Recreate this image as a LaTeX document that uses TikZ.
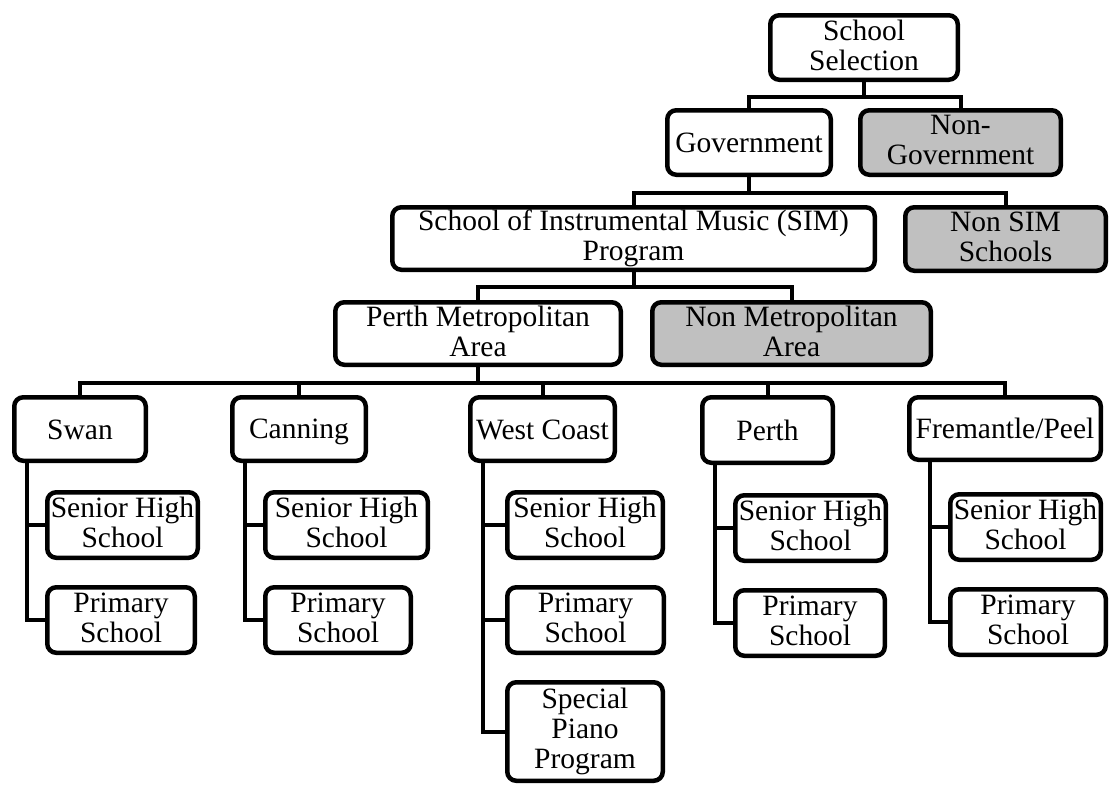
\documentclass[tikz,border=0pt]{standalone}
\usepackage{fontspec}
\setmainfont{Liberation Serif}
\usetikzlibrary{positioning}
\definecolor{shade}{RGB}{192,192,192}
\newcommand\boxstrut{\rule[-5pt]{0pt}{30pt}}

\begin{document}
\begin{tikzpicture}[
  x=1pt, y=1pt,
  box/.style={draw, line width=4.5pt, rounded corners=9pt, align=center,
              inner sep=0pt, minimum height=64.5pt,
              font=\fontsize{29.5}{30}\selectfont,
              execute at begin node=\boxstrut, execute at end node=\boxstrut},
  other/.style={box, fill=shade},
  school/.style={box, minimum height=65.5pt},
  link/.style={line width=4pt}
]
\useasboundingbox (0,0) rectangle (1110,-793);

\node[box, minimum width=187.5pt]   (select)   at (864,-47.5)    {School\\Selection};
\node[box, minimum width=163.5pt]   (gov)      at (749,-142.5)   {Government};
\node[other, minimum width=200.5pt] (nongov)   at (960.5,-142.5) {Non-\\Government};
\node[box, minimum width=482.5pt, minimum height=62.5pt]   (sim)      at (633.5,-238.5) {School of Instrumental Music (SIM)\\Program};
\node[other, minimum width=200.5pt, minimum height=63.5pt] (nonsim)   at (1005.5,-239)  {Non SIM\\Schools};
\node[box, minimum width=285.5pt, minimum height=62.5pt]   (metro)    at (478,-333.5)   {Perth Metropolitan\\Area};
\node[other, minimum width=278.5pt, minimum height=62.5pt] (nonmetro) at (791.5,-333.5) {Non Metropolitan\\Area};

\node[box, minimum width=131.5pt, minimum height=63.5pt] (swan)    at (80,-429)      {Swan};
\node[box, minimum width=133.5pt, minimum height=63.5pt] (canning) at (299,-429)     {Canning};
\node[box, minimum width=144.5pt, minimum height=63.5pt] (wc)      at (542.5,-429)   {West Coast};
\node[box, minimum width=130.5pt, minimum height=65.5pt] (perth)   at (767.5,-430)   {Perth};
\node[box, minimum width=191.5pt, minimum height=62.5pt] (frem)    at (1005,-428.5)  {Fremantle/Peel};

\node[school, anchor=north west, minimum width=150.5pt] (swan-shs)    at (45,-490)  {Senior High\\School};
\node[school, below=25pt of swan-shs.south west, anchor=north west, minimum width=147.5pt] (swan-pri) {Primary\\School};
\node[school, anchor=north west, minimum width=162.5pt] (canning-shs) at (263,-490) {Senior High\\School};
\node[school, below=25pt of canning-shs.south west, anchor=north west, minimum width=145.5pt] (canning-pri) {Primary\\School};
\node[school, anchor=north west, minimum width=155.5pt] (wc-shs)      at (505,-490) {Senior High\\School};
\node[school, below=25pt of wc-shs.south west, anchor=north west, minimum width=156.5pt] (wc-pri) {Primary\\School};
\node[school, below=25pt of wc-pri.south west, anchor=north west, minimum width=155.5pt, minimum height=98.5pt] (wc-piano) {Special\\Piano\\Program};
\node[school, anchor=north west, minimum width=150.5pt] (perth-shs)   at (733,-493) {Senior High\\School};
\node[school, below=25pt of perth-shs.south west, anchor=north west, minimum width=149.5pt] (perth-pri) {Primary\\School};
\node[school, anchor=north west, minimum width=150.5pt] (frem-shs)    at (948,-492) {Senior High\\School};
\node[school, below=25pt of frem-shs.south west, anchor=north west, minimum width=155.5pt] (frem-pri) {Primary\\School};

\draw[link] (select.south) -- ++(0,-15) -| (gov.north);
\draw[link] (select.south) -- ++(0,-15) -| (nongov.north);
\draw[link] (gov.south) -- ++(0,-16) -| (sim.north);
\draw[link] (gov.south) -- ++(0,-16) -| (nonsim.north);
\draw[link] (sim.south) -- ++(0,-15) -| (metro.north);
\draw[link] (sim.south) -- ++(0,-15) -| (nonmetro.north);
\foreach \d in {swan,canning,wc,perth,frem}
  \draw[link] (metro.south) -- ++(0,-16) -| (\d.north);

\foreach \d/\s in {swan/15,canning/15,wc/15,perth/15,frem/23} {
  \draw[link] ([xshift=\s pt]\d.south west) |- (\d-shs.west);
  \draw[link] ([xshift=\s pt]\d.south west) |- (\d-pri.west);
}
\draw[link] ([xshift=15pt]wc.south west) |- (wc-piano.west);
\end{tikzpicture}
\end{document}
